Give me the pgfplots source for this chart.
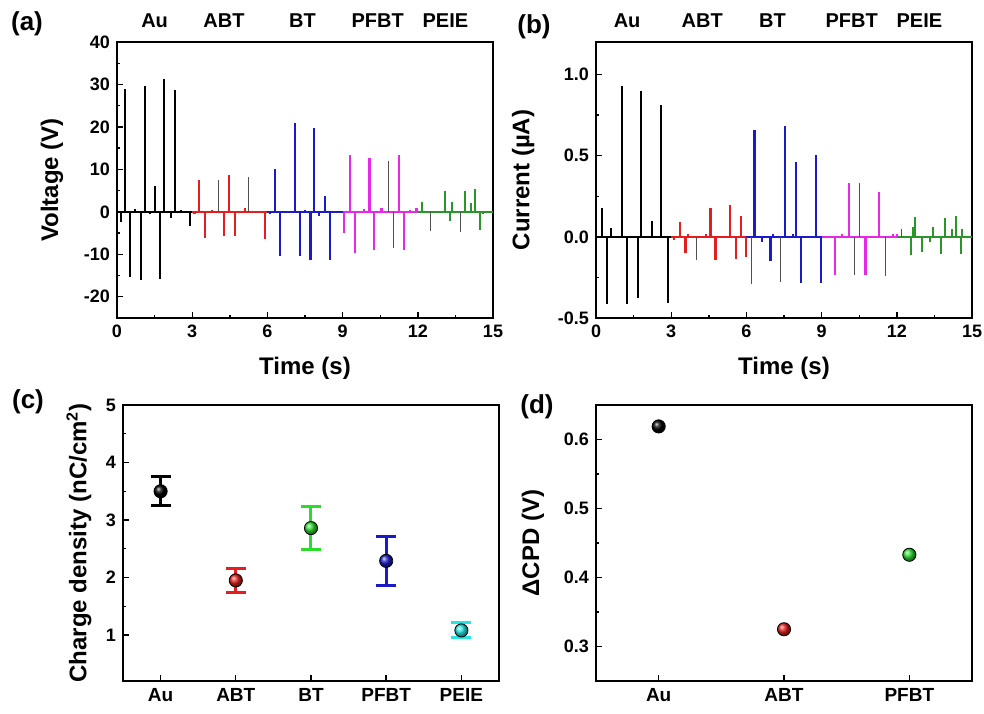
\documentclass[border=0pt]{standalone}
\usepackage{fontspec}
\setmainfont{Liberation Sans}
\usepackage{pgfplots}
\pgfplotsset{compat=1.18}
\usetikzlibrary{plotmarks}

\definecolor{cred}{HTML}{E41E1E}
\definecolor{cblue}{HTML}{1A1AC8}
\definecolor{cmag}{HTML}{E52AE5}
\definecolor{cgreen}{HTML}{2A962A}
\definecolor{lgreen}{HTML}{2ADD2A}
\definecolor{ccyan}{HTML}{22E6E6}
\definecolor{tgray}{HTML}{505050}

\tikzset{toplab/.style={anchor=base, yshift=7.5pt, font=\fontsize{10}{12}\selectfont\bfseries}}
\pgfplotsset{
  panel/.style={scale only axis, anchor=south west, width=188pt, height=138pt,
    axis line style={line width=0.9pt}, tick align=inside, tick pos=left,
    major tick length=3pt, minor tick length=1.6pt,
    every tick/.style={black, line width=0.7pt},
    tick label style={font=\fontsize{9}{10}\selectfont\bfseries},
    label style={font=\fontsize{12}{14}\selectfont\bfseries},
    /pgf/number format/assume math mode=true, clip=false},
  spk/.style={ycomb, no marks, line width=1.1pt},
  thn/.style={ycomb, no marks, line width=0.5pt, tgray},
  base/.style={no marks, line width=0.8pt},
  dot/.style={only marks, mark=ball, mark size=3.3pt, mark options={ball color=#1},
    error bars/.cd, y dir=both, y explicit,
    error bar style={line width=1.5pt, #1},
    error mark options={rotate=90, mark size=5pt, line width=1.5pt, #1}},
}

\begin{document}
\begin{tikzpicture}
\useasboundingbox (0,0) rectangle (492pt,-356.5pt);

% (a) voltage
\begin{axis}[panel, at={(58.5pt,-159pt)},
  xmin=0, xmax=15, ymin=-25, ymax=40,
  xtick={0,3,...,15}, minor x tick num=1,
  ytick={-20,-10,...,40}, minor y tick num=1,
  xlabel={Time (s)}, ylabel={Voltage (V)},
  xlabel style={at={(axis description cs:0.5,-0.181)}, anchor=center},
  ylabel style={at={(axis description cs:-0.173,0.5)}, anchor=center}]
\addplot[base, black] coordinates {(0,0) (3,0)};
\addplot[base, cred] coordinates {(3,0) (6,0)};
\addplot[base, cblue] coordinates {(6,0) (9,0)};
\addplot[base, cmag] coordinates {(9,0) (12,0)};
\addplot[base, cgreen] coordinates {(12,0) (15,0)};
\addplot[spk, black] coordinates {
(0.16,-2.5) (0.31,28.9) (0.52,-15.4) (0.72,0.6) (0.96,-16.1) (1.12,29.7)
(1.32,-0.6) (1.50,6.2) (1.72,-15.8) (1.88,31.3) (2.14,-1.4) (2.30,28.7)
(2.55,0.4) (2.91,-3.4)};
\addplot[spk, cred] coordinates {
(3.09,-0.6) (3.26,7.6) (3.51,-6.1) (3.78,0.5) (4.27,-5.7) (4.47,8.7)
(4.71,-5.7) (5.10,0.9) (5.90,-6.3)};
\addplot[thn] coordinates {(4.04,7.6) (5.24,8.3)};
\addplot[spk, cblue] coordinates {
(6.10,-0.5) (6.29,10.0) (6.50,-10.5) (7.10,21.0) (7.30,-10.5) (7.50,0.4)
(7.72,-11.3) (7.86,19.8) (8.05,-0.9) (8.30,3.7) (8.50,-11.3)};
\addplot[spk, cmag] coordinates {
(9.04,-5.0) (9.29,13.5) (9.49,-9.8) (9.85,0.7) (10.07,12.8) (10.25,-8.9)
(10.55,1.0) (11.26,13.5) (11.46,-8.9) (11.70,0.5) (11.95,1.0)};
\addplot[thn] coordinates {(10.82,11.9) (11.02,-8.5)};
\addplot[spk, cgreen] coordinates {
(12.18,2.3) (13.08,5.0) (13.28,-2.2) (13.37,2.3) (13.87,5.0) (14.13,2.1)
(14.27,5.3) (14.49,-4.2) (14.60,-0.5)};
\addplot[thn] coordinates {(12.51,-4.6) (13.72,-4.7)};
\node[toplab] at (axis cs:1.5,40) {Au};
\node[toplab] at (axis cs:4.27,40) {ABT};
\node[toplab] at (axis cs:7.4,40) {BT};
\node[toplab] at (axis cs:10.4,40) {PFBT};
\node[toplab] at (axis cs:13.1,40) {PEIE};
\end{axis}

% (b) current
\begin{axis}[panel, at={(298pt,-159pt)},
  xmin=0, xmax=15, ymin=-0.5, ymax=1.2,
  xtick={0,3,...,15}, minor x tick num=1,
  ytick={-0.5,0,0.5,1.0}, minor y tick num=1,
  yticklabel style={/pgf/number format/.cd, fixed, fixed zerofill, precision=1},
  xlabel={Time (s)}, ylabel={Current (µA)},
  xlabel style={at={(axis description cs:0.5,-0.181)}, anchor=center},
  ylabel style={at={(axis description cs:-0.194,0.5)}, anchor=center}]
\addplot[base, black] coordinates {(0,0) (3,0)};
\addplot[base, cred] coordinates {(3,0) (6,0)};
\addplot[base, cblue] coordinates {(6,0) (9,0)};
\addplot[base, cmag] coordinates {(9,0) (12,0)};
\addplot[base, cgreen] coordinates {(12,0) (15,0)};
\addplot[spk, black] coordinates {
(0.25,0.175) (0.45,-0.415) (0.60,0.053) (1.03,0.93) (1.24,-0.415)
(1.67,-0.374) (1.80,0.90) (2.23,0.098) (2.60,0.81) (2.88,-0.41)};
\addplot[spk, cred] coordinates {
(3.10,-0.02) (3.36,0.09) (3.57,-0.098) (3.66,0.02) (4.40,0.02) (4.57,0.18)
(4.77,-0.14) (5.36,0.195) (5.57,-0.134) (5.77,0.126) (5.97,-0.126)};
\addplot[thn] coordinates {(4.00,-0.14)};
\addplot[spk, cblue] coordinates {
(6.32,0.655) (6.63,-0.03) (6.96,-0.15) (7.05,0.02) (7.55,0.685) (7.85,0.02)
(7.97,0.46) (8.19,-0.287) (8.77,0.506) (8.96,-0.287)};
\addplot[thn] coordinates {(6.21,-0.29) (7.36,-0.276)};
\addplot[spk, cmag] coordinates {
(9.53,-0.236) (9.80,0.02) (10.08,0.333) (10.75,-0.236) (11.28,0.278)
(11.85,0.02) (12.00,0.02)};
\addplot[thn] coordinates {(10.32,-0.236) (10.51,0.333) (11.53,-0.24)};
\addplot[spk, cgreen] coordinates {
(12.56,-0.11) (12.64,0.059) (12.72,0.12) (12.99,-0.094) (13.33,-0.033)
(13.43,0.061) (13.77,-0.106) (13.91,0.114) (14.19,0.049) (14.35,0.126)
(14.57,-0.108) (14.61,0.05)};
\addplot[thn] coordinates {(12.20,0.049)};
\node[toplab] at (axis cs:1.24,1.2) {Au};
\node[toplab] at (axis cs:4.24,1.2) {ABT};
\node[toplab] at (axis cs:7.04,1.2) {BT};
\node[toplab] at (axis cs:10.2,1.2) {PFBT};
\node[toplab] at (axis cs:12.9,1.2) {PEIE};
\end{axis}

% (c) charge density
\begin{axis}[panel, at={(61.5pt,-340.5pt)},
  xmin=-0.5, xmax=4.5, ymin=0.2, ymax=5,
  xtick={0,1,2,3,4}, xticklabels={Au,ABT,BT,PFBT,PEIE},
  ytick={1,2,3,4,5}, minor y tick num=1,
  xticklabel style={font=\fontsize{9.5}{11}\selectfont\bfseries},
  ylabel={Charge density (nC/cm$^{\mathbf{2}}$)},
  ylabel style={at={(axis description cs:-0.117,0.5)}, anchor=center}]
\addplot[dot=black] coordinates {(0,3.50) +- (0,0.25)};
\addplot[dot=cred] coordinates {(1,1.95) +- (0,0.21)};
\addplot[dot=lgreen] coordinates {(2,2.86) +- (0,0.38)};
\addplot[dot=cblue] coordinates {(3,2.29) +- (0,0.43)};
\addplot[dot=ccyan] coordinates {(4,1.08) +- (0,0.13)};
\end{axis}

% (d) delta CPD
\begin{axis}[panel, at={(298pt,-340.5pt)},
  xmin=-0.5, xmax=2.5, ymin=0.25, ymax=0.65,
  xtick={0,1,2}, xticklabels={Au,ABT,PFBT},
  ytick={0.3,0.4,0.5,0.6}, minor y tick num=1,
  yticklabel style={/pgf/number format/.cd, fixed, fixed zerofill, precision=1},
  xticklabel style={font=\fontsize{9.5}{11}\selectfont\bfseries},
  ylabel={ΔCPD (V)},
  ylabel style={at={(axis description cs:-0.168,0.5)}, anchor=center}]
\addplot[only marks, mark=ball, mark size=3.3pt, mark options={ball color=black}] coordinates {(0,0.619)};
\addplot[only marks, mark=ball, mark size=3.3pt, mark options={ball color=cred}] coordinates {(1,0.325)};
\addplot[only marks, mark=ball, mark size=3.3pt, mark options={ball color=lgreen}] coordinates {(2,0.433)};
\end{axis}

\node[font=\fontsize{13}{15}\selectfont\bfseries] at (13.5pt,-12pt) {(a)};
\node[font=\fontsize{13}{15}\selectfont\bfseries] at (267pt,-13.5pt) {(b)};
\node[font=\fontsize{13}{15}\selectfont\bfseries] at (14pt,-201pt) {(c)};
\node[font=\fontsize{13}{15}\selectfont\bfseries] at (268.5pt,-203.5pt) {(d)};
\end{tikzpicture}
\end{document}
